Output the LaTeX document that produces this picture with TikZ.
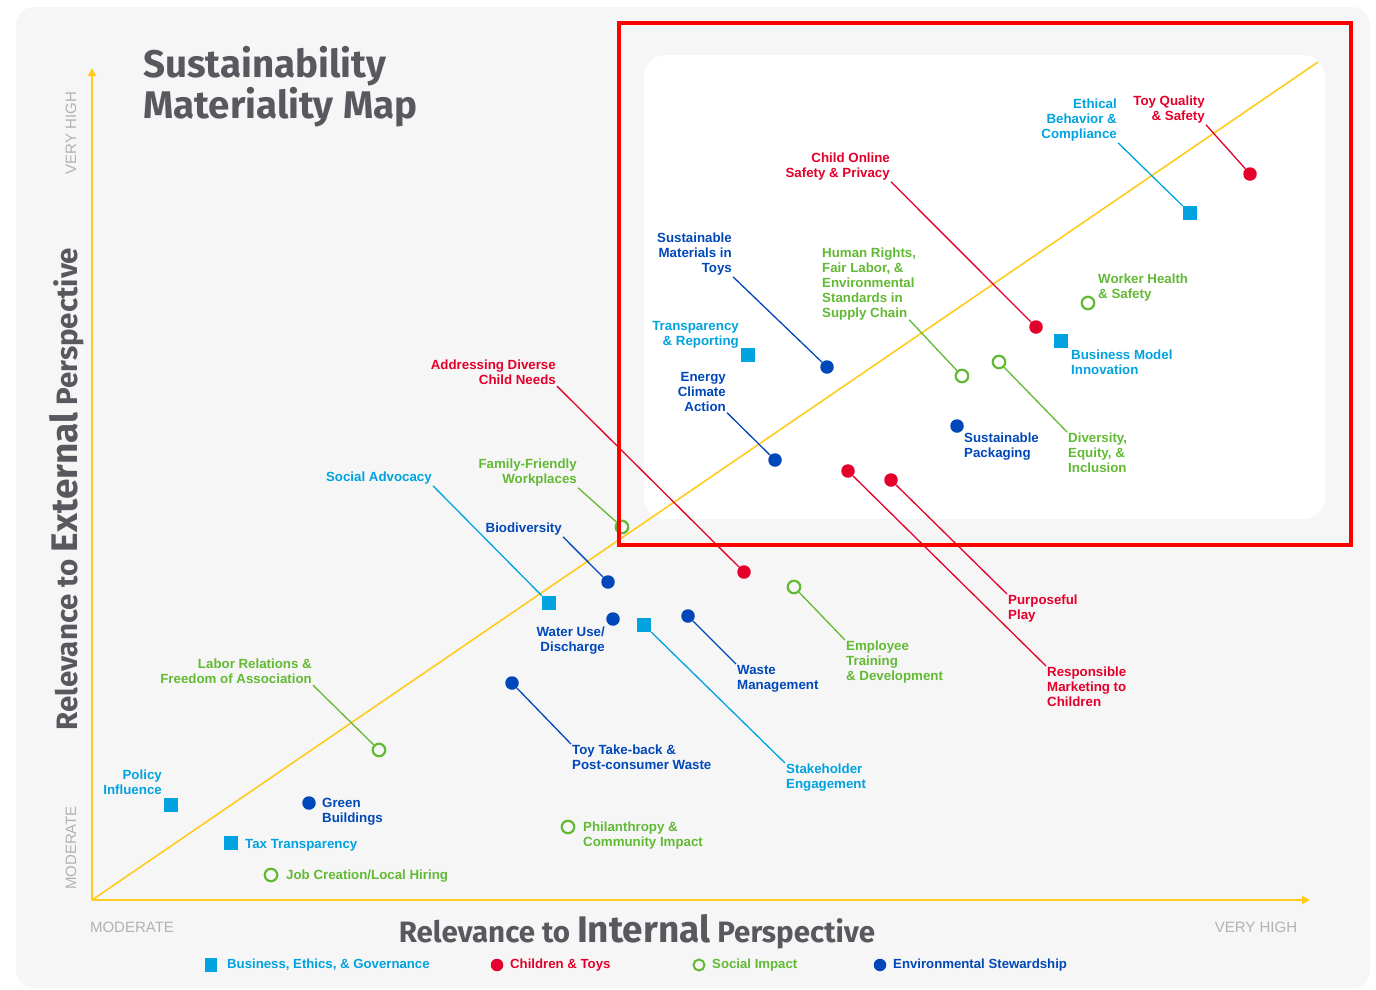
\documentclass[tikz,border=0pt]{standalone}
\usepackage{fontspec}
\setmainfont{Liberation Sans}
\newfontfamily\fira{Fira Sans}
\usetikzlibrary{arrows.meta}
\definecolor{lb}{RGB}{0,163,224}
\definecolor{rd}{RGB}{228,0,43}
\definecolor{gr}{RGB}{98,186,52}
\definecolor{db}{RGB}{0,72,186}
\definecolor{axyel}{RGB}{255,204,30}
\definecolor{ttl}{RGB}{88,89,94}
\definecolor{axgray}{RGB}{178,178,178}
\definecolor{panel}{RGB}{246,246,246}
\definecolor{frame}{RGB}{255,0,0}
\begin{document}
\begin{tikzpicture}[x=1pt,y=-1pt,
  lab/.style={font=\bfseries\fontsize{13.3}{15}\selectfont, inner sep=1pt},
  labl/.style={lab, align=left, anchor=north west},
  labr/.style={lab, align=right, anchor=north east},
  sqm/.style={rectangle, fill=lb, minimum size=14pt, inner sep=0pt},
  rdm/.style={circle, fill=rd, minimum size=13.5pt, inner sep=0pt},
  bdm/.style={circle, fill=db, minimum size=13.5pt, inner sep=0pt},
  gcm/.style={circle, draw=gr, line width=2.2pt, minimum size=12.5pt, inner sep=0pt},
  leader/.style={line width=1.3pt},
  axisline/.style={draw=axyel, line width=2pt},
  endlab/.style={text=axgray, font=\fontsize{15}{15}\selectfont, inner sep=0pt},
  legtext/.style={lab, font=\bfseries\fontsize{13.2}{15}\selectfont, anchor=west}
]
\useasboundingbox (0,0) rectangle (1376,989);
\fill[white] (0,0) rectangle (1376,989);
% panels
\fill[panel, rounded corners=18pt] (16,7) rectangle (1370,988);
\fill[white, rounded corners=22pt] (644,55) rectangle (1325,519);

% axes
\coordinate (origin) at (92,900);
\coordinate (ytop) at (92,68);
\coordinate (xend) at (1310,900);
\coordinate (diagend) at (1318,62);
\draw[axisline, line width=1.6pt] (origin) -- (diagend);
\draw[axisline, -{Triangle[width=8pt,length=8pt]}] (origin) -- (ytop);
\draw[axisline, -{Triangle[width=8pt,length=8pt]}] (origin) -- (xend);

% title
\node[anchor=north west, inner sep=0pt, align=left, text=ttl,
  font=\fira\bfseries\fontsize{38.5}{41}\selectfont] (title) at (143,46)
  {Sustainability\\Materiality Map};

% axis titles
\node[text=ttl, inner sep=0pt, font=\fira\bfseries\fontsize{29.5}{30}\selectfont]
  (xtitle) at (637,932) {Relevance to {\fontsize{37}{37}\selectfont Internal} Perspective};
\node[text=ttl, inner sep=0pt, rotate=90, font=\fira\bfseries\fontsize{29.5}{30}\selectfont]
  (ytitle) at (67,489) {Relevance to {\fontsize{37}{37}\selectfont External} Perspective};
\node[endlab] (xmod) at (132,927) {MODERATE};
\node[endlab] (xvh) at (1256,927) {VERY HIGH};
\node[endlab, rotate=90] (ymod) at (71,848) {MODERATE};
\node[endlab, rotate=90] (yvh) at (71,133) {VERY HIGH};

% ---- markers ----
\node[rdm] (mtoyq) at (1250,174) {};
\node[sqm] (methic) at (1190,213) {};
\node[rdm] (mchild) at (1036,327) {};
\node[bdm] (msmat) at (827,367) {};
\node[gcm] (mhuman) at (962,376) {};
\node[gcm] (mworker) at (1088,303) {};
\node[sqm] (mbmi) at (1061,341) {};
\node[sqm] (mtransp) at (748,355) {};
\node[bdm] (menergy) at (775,460) {};
\node[bdm] (mspack) at (957,426) {};
\node[gcm] (mdei) at (999,362) {};
\node[rdm] (mpurp) at (891,480) {};
\node[rdm] (mresp) at (848,471) {};
\node[rdm] (madcn) at (744,572) {};
\node[gcm] (mffw) at (622,527) {};
\node[sqm] (msocadv) at (549,603) {};
\node[bdm] (mbiod) at (608,582) {};
\node[bdm] (mwater) at (613,619) {};
\node[sqm] (mstake) at (644,625) {};
\node[bdm] (mwaste) at (688,616) {};
\node[gcm] (mempl) at (794,587) {};
\node[bdm] (mtoytb) at (512,683) {};
\node[gcm] (mlabor) at (379,750) {};
\node[sqm] (mpolicy) at (171,805) {};
\node[bdm] (mgreen) at (309,803) {};
\node[sqm] (mtax) at (231,843) {};
\node[gcm] (mjob) at (271,875) {};
\node[gcm] (mphil) at (568,827) {};

% ---- labels ----
\node[labr, text=rd] (toyq) at (1206,95) {Toy Quality\\\& Safety};
\node[labr, text=lb] (ethic) at (1118,98) {Ethical\\Behavior \&\\Compliance};
\node[labr, text=rd] (child) at (891,152) {Child Online\\Safety \& Privacy};
\node[labr, text=db] (smat) at (733,232) {Sustainable\\Materials in\\Toys};
\node[labr, text=lb] (transp) at (740,320) {Transparency\\\& Reporting};
\node[labr, text=db] (energy) at (727,371) {Energy\\Climate\\Action};
\node[labr, text=rd] (adcn) at (557,359) {Addressing Diverse\\Child Needs};
\node[labr, text=gr] (ffw) at (578,458) {Family-Friendly\\Workplaces};
\node[labr, text=lb] (socadv) at (433,471) {Social Advocacy};
\node[labr, text=db] (biod) at (563,522) {Biodiversity};
\node[labr, text=db] (water) at (606,626) {Water Use/\\Discharge};
\node[labr, text=gr] (labor) at (313,658) {Labor Relations \&\\Freedom of Association};
\node[labr, text=lb] (policy) at (163,769) {Policy\\Influence};

\node[labl, text=gr] (human) at (821,247) {Human Rights,\\Fair Labor, \&\\Environmental\\Standards in\\Supply Chain};
\node[labl, text=gr] (worker) at (1097,273) {Worker Health\\\& Safety};
\node[labl, text=lb] (bmi) at (1070,349) {Business Model\\Innovation};
\node[labl, text=db] (spack) at (963,432) {Sustainable\\Packaging};
\node[labl, text=gr] (dei) at (1067,432) {Diversity,\\Equity, \&\\Inclusion};
\node[labl, text=rd] (purp) at (1007,594) {Purposeful\\Play};
\node[labl, text=rd] (resp) at (1046,666) {Responsible\\Marketing to\\Children};
\node[labl, text=lb] (stake) at (785,763) {Stakeholder\\Engagement};
\node[labl, text=db] (waste) at (736,664) {Waste\\Management};
\node[labl, text=gr] (empl) at (845,640) {Employee\\Training\\\& Development};
\node[labl, text=db] (toytb) at (571,744) {Toy Take-back \&\\Post-consumer Waste};
\node[labl, text=db] (green) at (321,797) {Green\\Buildings};
\node[labl, text=lb] (tax) at (244,838) {Tax Transparency};
\node[labl, text=gr] (job) at (285,869) {Job Creation/Local Hiring};
\node[labl, text=gr] (phil) at (582,821) {Philanthropy \&\\Community Impact};

% ---- leaders ----
\draw[leader, rd] (toyq.south east) -- (mtoyq);
\draw[leader, lb] (ethic.south east) -- (methic);
\draw[leader, rd] (child.south east) -- (mchild);
\draw[leader, db] (smat.south east) -- (msmat);
\draw[leader, gr] (human.south east) ++(-8,-2) -- (mhuman);
\draw[leader, db] (energy.south east) -- (menergy);
\draw[leader, gr] (mdei) -- (dei.north west);
\draw[leader, rd] (mpurp) -- (purp.north west);
\draw[leader, rd] (mresp) -- (resp.north west);
\draw[leader, rd] (adcn.south east) -- (madcn);
\draw[leader, gr] (ffw.south east) -- (mffw);
\draw[leader, lb] (socadv.south east) -- (msocadv);
\draw[leader, db] (biod.south east) -- (mbiod);
\draw[leader, lb] (mstake) -- (stake.north west);
\draw[leader, db] (mwaste) -- (waste.north west);
\draw[leader, gr] (mempl) -- (empl.north west);
\draw[leader, db] (mtoytb) -- (toytb.north west);
\draw[leader, gr] (labor.south east) -- (mlabor);

% ---- frame ----
\draw[frame, line width=4.5pt] (619,23) rectangle (1351,545);

% ---- legend ----
\node[rectangle, fill=lb, minimum width=12pt, minimum height=14pt, inner sep=0pt] (lgsq) at (211,965) {};
\node[legtext, text=lb] (lgsqt) at (226,965) {Business, Ethics, \& Governance};
\node[rdm, minimum size=12.5pt] (lgrd) at (497,965) {};
\node[legtext, text=rd] (lgrdt) at (509,965) {Children \& Toys};
\node[gcm, minimum size=11pt, line width=2pt] (lggc) at (699,965) {};
\node[legtext, text=gr] (lggct) at (711,965) {Social Impact};
\node[bdm, minimum size=12.5pt] (lgbd) at (880,965) {};
\node[legtext, text=db] (lgbdt) at (892,965) {Environmental Stewardship};
\end{tikzpicture}
\end{document}
